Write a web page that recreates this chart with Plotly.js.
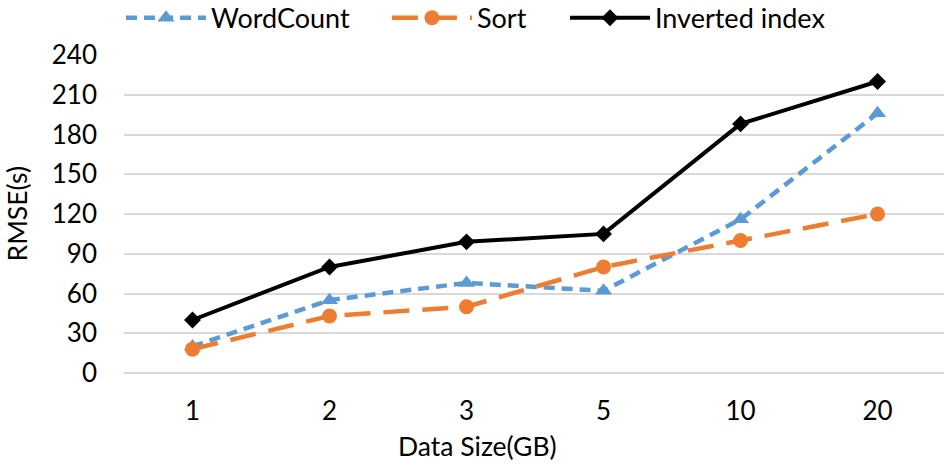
<!DOCTYPE html>
<html>
<head>
<meta charset="utf-8">
<script src="https://cdn.plot.ly/plotly-3.0.1.min.js"></script>
<style>html,body{margin:0;padding:0;background:#fff;}#chart{width:944px;height:466px;}</style>
</head>
<body>
<div id="chart"></div>
<script>
const categories = ["1", "2", "3", "5", "10", "20"];
const wordCount = [20, 55, 68, 62, 116, 196];
const sortVals = [18, 43, 50, 80, 100, 120];
const invertedIndex = [40, 80, 99, 105, 188, 220];
const yTicks = [0, 30, 60, 90, 120, 150, 180, 210, 240];
const seriesNames = ["WordCount", "Sort", "Inverted index"];
const xTitle = "Data Size(GB)";
const yTitle = "RMSE(s)";

const FONT = "Lato, 'Liberation Sans', sans-serif";

const traces = [
  {
    x: categories, y: wordCount, name: seriesNames[0], type: "scatter", mode: "lines+markers",
    legend: "legend",
    line: {color: "#5B9BD5", width: 4.5, dash: "11px,7px"},
    marker: {symbol: "triangle-up", size: 15, color: "#5B9BD5"}
  },
  {
    x: categories, y: sortVals, name: seriesNames[1], type: "scatter", mode: "lines+markers",
    legend: "legend2",
    line: {color: "#ED7D31", width: 4.5, dash: "26px,13px"},
    marker: {symbol: "circle", size: 15, color: "#ED7D31"}
  },
  {
    x: categories, y: invertedIndex, name: seriesNames[2], type: "scatter", mode: "lines+markers",
    legend: "legend3",
    line: {color: "#000000", width: 4},
    marker: {symbol: "diamond", size: 13, color: "#000000"}
  }
];

function legendAt(xLeft) {
  return {
    orientation: "h", xref: "container", yref: "container",
    x: xLeft, xanchor: "left", y: 0.961, yanchor: "middle",
    font: {family: FONT, size: 27, color: "#000000"},
    itemwidth: 80, bgcolor: "rgba(0,0,0,0)"
  };
}

const layout = {
  width: 944, height: 466,
  margin: {l: 124, r: 0, t: 55, b: 93, pad: 0},
  paper_bgcolor: "#ffffff", plot_bgcolor: "#ffffff",
  font: {family: FONT, size: 26, color: "#000000"},
  showlegend: true,
  legend: legendAt(0.1282),
  legend2: legendAt(0.4099),
  legend3: legendAt(0.5985),
  xaxis: {
    type: "category", range: [-0.5, 5.485],
    showgrid: false, zeroline: false, showline: false,
    ticks: "", ticklabelstandoff: 20,
    tickfont: {family: FONT, size: 26, color: "#000000"}
  },
  yaxis: {
    range: [0, 240], tickvals: yTicks, ticktext: yTicks.map(String),
    showgrid: true, gridcolor: "#d9d9d9", gridwidth: 2,
    zeroline: true, zerolinecolor: "#d9d9d9", zerolinewidth: 2,
    showline: false, ticks: "", ticklabelstandoff: 26,
    tickfont: {family: FONT, size: 26, color: "#000000"}
  },
  annotations: [
    {text: xTitle, xref: "paper", yref: "paper", x: 0.4305, y: -0.228, xanchor: "center", yanchor: "middle",
     showarrow: false, font: {family: FONT, size: 26.5, color: "#000000"}},
    {text: yTitle, xref: "paper", yref: "paper", x: -0.13, y: 0.5, xanchor: "center", yanchor: "middle",
     textangle: -90, showarrow: false, font: {family: FONT, size: 26.5, color: "#000000"}}
  ]
};

Plotly.newPlot("chart", traces, layout, {staticPlot: true, displayModeBar: false});
</script>
</body>
</html>
